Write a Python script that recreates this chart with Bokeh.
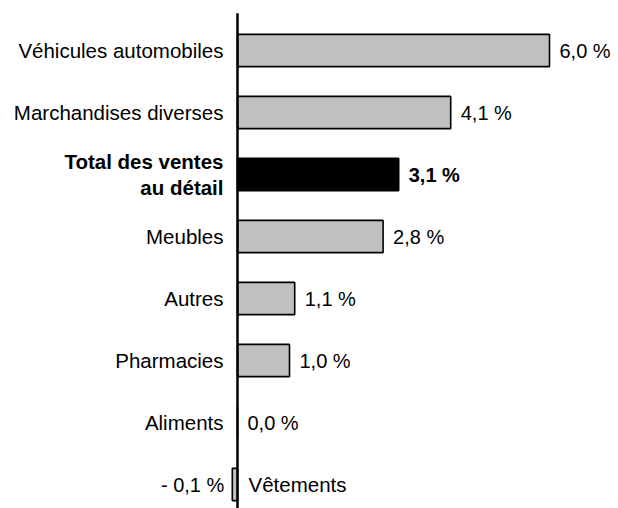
from bokeh.plotting import figure
from bokeh.models import ColumnDataSource, Range1d
from bokeh.embed import file_html
from bokeh.resources import INLINE
from bokeh.core.properties import value

categories = ["Véhicules automobiles", "Marchandises diverses", "Total des ventes\nau détail",
              "Meubles", "Autres", "Pharmacies", "Aliments", "Vêtements"]
values = [6.0, 4.1, 3.1, 2.8, 1.1, 1.0, 0.0, -0.1]
value_labels = ["6,0 %", "4,1 %", "3,1 %", "2,8 %", "1,1 %", "1,0 %", "0,0 %", "- 0,1 %"]
highlight = [False, False, True, False, False, False, False, False]

W, H = 618, 508
PX_PER_UNIT = 52.0
ZERO_X = 237.0
ROW0_Y = 50.0
ROW_STEP = 62.0

n = len(categories)
ypos = list(range(n))
pos = [v >= 0 for v in values]

src = ColumnDataSource(dict(
    y=ypos,
    v=values,
    right=[max(v, 0) for v in values],
    left=[min(v, 0) for v in values],
    fill=["black" if h else "#c0c0c0" for h in highlight],
))

p = figure(width=W, height=H, output_backend="svg", toolbar_location=None,
           x_range=Range1d(-ZERO_X / PX_PER_UNIT, (W - ZERO_X) / PX_PER_UNIT),
           y_range=Range1d((H - ROW0_Y) / ROW_STEP, -ROW0_Y / ROW_STEP),
           min_border=0, outline_line_color=None)
p.axis.visible = False
p.grid.visible = False
p.background_fill_color = "white"
p.border_fill_color = "white"

p.hbar(y="y", left="left", right="right", height=0.52, source=src,
       fill_color="fill", line_color="black", line_width=1.6)

# axis line at zero
p.segment(x0=[0], y0=[-0.6], x1=[0], y1=[n], line_color="black", line_width=2.5)

font = value("Liberation Sans")
CAT_SIZE = "20.5px"
VAL_SIZE = "20px"

pos_idx = [i for i in range(n) if pos[i]]
neg_idx = [i for i in range(n) if not pos[i]]

# positive rows: category on left, value on right
cat_pos = ColumnDataSource(dict(
    x=[0.0] * len(pos_idx), y=[ypos[i] for i in pos_idx],
    t=[categories[i] for i in pos_idx],
    style=["bold" if highlight[i] else "normal" for i in pos_idx]))
p.text(x="x", y="y", text="t", source=cat_pos, x_offset=-14, text_align="right",
       text_baseline="middle", text_font=font, text_font_size=CAT_SIZE,
       text_font_style="style", text_color="black", text_line_height=1.17)

val_pos = ColumnDataSource(dict(
    x=[max(values[i], 0) for i in pos_idx], y=[ypos[i] for i in pos_idx],
    t=[value_labels[i] for i in pos_idx],
    style=["bold" if highlight[i] else "normal" for i in pos_idx]))
p.text(x="x", y="y", text="t", source=val_pos, x_offset=10, text_align="left",
       text_baseline="middle", text_font=font, text_font_size=VAL_SIZE,
       text_font_style="style", text_color="black")

# negative rows: value on left, category on right
cat_neg = ColumnDataSource(dict(
    x=[0.0] * len(neg_idx), y=[ypos[i] for i in neg_idx],
    t=[categories[i] for i in neg_idx]))
p.text(x="x", y="y", text="t", source=cat_neg, x_offset=11, text_align="left",
       text_baseline="middle", text_font=font, text_font_size=CAT_SIZE, text_color="black")

val_neg = ColumnDataSource(dict(
    x=[values[i] for i in neg_idx], y=[ypos[i] for i in neg_idx],
    t=[value_labels[i] for i in neg_idx]))
p.text(x="x", y="y", text="t", source=val_neg, x_offset=-8, text_align="right",
       text_baseline="middle", text_font=font, text_font_size=VAL_SIZE, text_color="black")

open("out.html", "w").write(file_html(p, INLINE))
